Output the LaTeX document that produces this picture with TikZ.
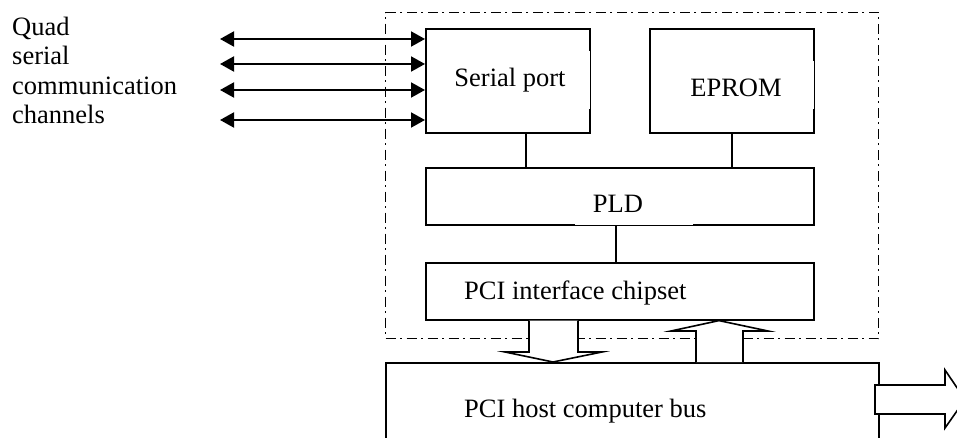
\documentclass[tikz,border=0pt]{standalone}
\usepackage{fontspec}
\setmainfont{Liberation Serif}
\usetikzlibrary{arrows.meta,calc}
\begin{document}
\begin{tikzpicture}[x=1pt,y=-1pt,
  box/.style={draw, line width=1.6pt, inner sep=0pt, anchor=north west},
  lbl/.style={inner sep=0pt, font=\fontsize{26.5}{29.3}\selectfont},
  frame/.style={draw, line width=1.4pt, dash pattern=on 10pt off 4.5pt on 2pt off 4.5pt, inner sep=0pt, anchor=north west},
  bi/.style={line width=2pt, {Triangle[length=14pt,width=15pt]}-{Triangle[length=14pt,width=15pt]}},
  link/.style={line width=1.6pt},
  hollow/.style={draw, fill=white, line width=1.6pt, line join=miter}]
\useasboundingbox (0,0) rectangle (957,438);
\clip (0,0) rectangle (957,438);

% dashed frame
\node[frame, minimum width=493pt, minimum height=326pt] (fr) at (385,12) {};

% boxes
\node[box, minimum width=164pt, minimum height=104pt] (sp) at (425,28) {};
\node[box, minimum width=164pt, minimum height=104pt] (ep) at (649,28) {};
\node[box, minimum width=388pt, minimum height=57pt] (pld) at (425,167) {};
\node[box, minimum width=388pt, minimum height=57pt] (chip) at (425,262) {};
\node[box, minimum width=493pt, minimum height=120pt] (host) at (385,362) {};

% small white gaps of the original drawing
\draw[white, line width=2.4pt] (589,51) -- (589,109);
\draw[white, line width=2.4pt] (813,61) -- (813,109);
\draw[white, line width=2.4pt] (575,224) -- (693,224);

% labels
\node[lbl, anchor=base] (tsp) at (510,87) {Serial port};
\node[lbl, anchor=base] (tep) at (736,97) {EPROM};
\node[lbl, anchor=base] (tpld) at (618,212) {PLD};
\node[lbl, anchor=base west] (tchip) at (464,299) {PCI interface chipset};
\node[lbl, anchor=base west] (thost) at (464,417) {PCI host computer bus};

\node[lbl, anchor=base west] (q1) at (12,36) {Quad};
\node[lbl, anchor=base west] (q2) at (12,65) {serial};
\node[lbl, anchor=base west] (q3) at (12,95) {communication};
\node[lbl, anchor=base west] (q4) at (12,124) {channels};

% serial channels
\coordinate (c1) at (220,39);
\coordinate (c2) at (220,64);
\coordinate (c3) at (220,90);
\coordinate (c4) at (220,120);
\foreach \c in {c1,c2,c3,c4} \draw[bi] (\c) -- (\c -| sp.west);

% internal links
\coordinate (x1) at (526,0);
\coordinate (x2) at (732,0);
\coordinate (x3) at (616,0);
\draw[link] (sp.south -| x1) -- (pld.north -| x1);
\draw[link] (ep.south -| x2) -- (pld.north -| x2);
\draw[link] (pld.south -| x3) -- (chip.north -| x3);

% hollow block arrows
\draw[hollow] (chip.south -| 529,0) -- (529,352) -- (505,352) -- (host.north -| 553,0)
  -- (602,352) -- (578,352) -- (chip.south -| 578,0);
\draw[hollow] (host.north -| 696,0) -- (696,331) -- (671,331) -- (chip.south -| 719,0)
  -- (768,331) -- (743,331) -- (host.north -| 743,0);
\draw[hollow] (875,385) -- (945,385) -- (945,370) -- (965,399.5) -- (945,428)
  -- (945,414) -- (875,414) -- cycle;
\end{tikzpicture}
\end{document}
